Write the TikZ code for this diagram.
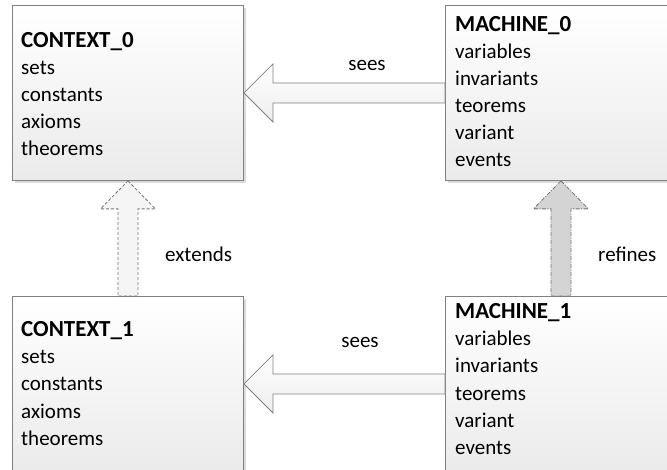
\documentclass[tikz,border=0pt]{standalone}
\usepackage{fontspec}
\setmainfont{Carlito}
\usetikzlibrary{calc}

\tikzset{
  box/.style={draw=black!50, line width=0.9pt, top color=white, bottom color=black!8,
    minimum width=231pt, minimum height=175pt, inner sep=0pt, anchor=north west},
  boxshadow/.style={fill=black!14, draw=none},
  line/.style={font=\fontsize{21}{27}\selectfont, inner sep=0pt, anchor=base west},
  head/.style={font=\fontsize{23}{27}\selectfont\bfseries, inner sep=0pt, anchor=base west},
  lbl/.style={font=\fontsize{21}{27}\selectfont, inner sep=0pt, anchor=base},
  seesarrow/.style={draw=black!50, line width=0.8pt, top color=white, bottom color=black!7},
  extarrow/.style={draw=black!55, line width=0.8pt, dash pattern=on 3pt off 2pt, fill=black!4},
  refarrow/.style={draw=black!55, line width=0.8pt, dash pattern=on 4pt off 1.5pt on 1pt off 1.5pt, fill=black!17},
}

% one line per entry; the first entry is the bold heading
\newcommand{\entries}[4]{%
  \foreach \t [count=\i] in {#4} {
    \pgfmathsetmacro{\yy}{#3+27*(\i-1)}
    \ifnum\i=1
      \node[head] (#1-\i) at (#2,\yy) {\t};
    \else
      \node[line] (#1-\i) at (#2,\yy) {\t};
    \fi
  }%
}

\begin{document}
\begin{tikzpicture}[x=1pt,y=-1pt]
  \useasboundingbox (0,0) rectangle (667,470);

  % drop shadows
  \fill[boxshadow] (15,8) rectangle (246,183);
  \fill[boxshadow] (448,8) rectangle (679,183);
  \fill[boxshadow] (15,299) rectangle (246,474);
  \fill[boxshadow] (448,299) rectangle (679,474);

  % boxes
  \node[box] (c0) at (12,5) {};
  \node[box] (m0) at (445,5) {};
  \node[box] (c1) at (12,296) {};
  \node[box] (m1) at (445,296) {};

  % box contents
  \entries{c0t}{21}{48}{CONTEXT\_0,sets,constants,axioms,theorems}
  \entries{m0t}{455}{32}{MACHINE\_0,variables,invariants,teorems,variant,events}
  \entries{c1t}{21}{337}{CONTEXT\_1,sets,constants,axioms,theorems}
  \entries{m1t}{455}{319}{MACHINE\_1,variables,invariants,teorems,variant,events}

  % sees: MACHINE_0 -> CONTEXT_0
  \draw[seesarrow] (c0.east) -- ++(29,-29) -- ++(0,19)
    -- ($(m0.west)+(0,-10)$) -- ($(m0.west)+(0,10)$)
    -- ($(c0.east)+(29,10)$) -- ++(0,19) -- cycle;
  % sees: MACHINE_1 -> CONTEXT_1
  \draw[seesarrow] (c1.east) -- ++(29,-29) -- ++(0,19)
    -- ($(m1.west)+(0,-10)$) -- ($(m1.west)+(0,10)$)
    -- ($(c1.east)+(29,10)$) -- ++(0,19) -- cycle;
  % extends: CONTEXT_1 -> CONTEXT_0
  \draw[extarrow] (c0.south) -- ++(27.5,28) -- ++(-17.5,0)
    -- ($(c1.north)+(10,0)$) -- ($(c1.north)+(-10,0)$)
    -- ($(c0.south)+(-10,28)$) -- ++(-17.5,0) -- cycle;
  % refines: MACHINE_1 -> MACHINE_0
  \draw[refarrow] (m0.south) -- ++(27.5,28) -- ++(-17.5,0)
    -- ($(m1.north)+(10,0)$) -- ($(m1.north)+(-10,0)$)
    -- ($(m0.south)+(-10,28)$) -- ++(-17.5,0) -- cycle;

  % connector labels
  \node[lbl] (l1) at (367,71) {sees};
  \node[lbl] (l2) at (360,348) {sees};
  \node[line] (l3) at (165,262) {extends};
  \node[line] (l4) at (598,262) {refines};
\end{tikzpicture}
\end{document}
